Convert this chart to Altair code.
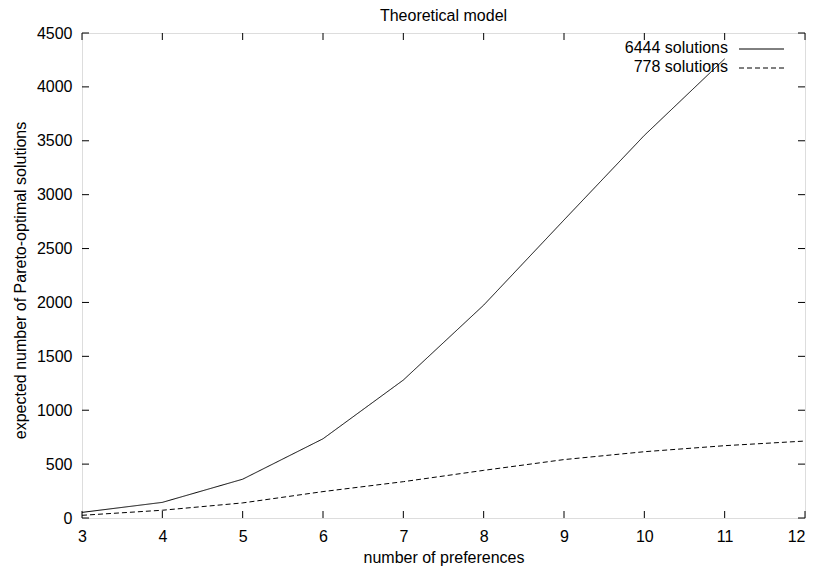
import altair as alt
import pandas as pd

# ---- data ----
prefs = [3, 4, 5, 6, 7, 8, 9, 10, 11, 12]
sol_6444 = [52, 145, 360, 735, 1280, 1975, 2765, 3550, 4260]
sol_778 = [25, 72, 140, 245, 337, 442, 542, 615, 671, 714]
series_names = ["6444 solutions", "778 solutions"]
x_ticks = [3, 4, 5, 6, 7, 8, 9, 10, 11, 12]
y_ticks = [0, 500, 1000, 1500, 2000, 2500, 3000, 3500, 4000, 4500]

W, H = 723, 485
FONT = "Liberation Sans"
FS = 16
DASHES = [[1, 0], [5, 3]]

rows = []
for p, v in zip(prefs, sol_6444):
    rows.append({"prefs": p, "value": v, "series": series_names[0]})
for p, v in zip(prefs, sol_778):
    rows.append({"prefs": p, "value": v, "series": series_names[1]})
df = pd.DataFrame(rows)

xscale = alt.Scale(domain=[3, 12], nice=False, zero=False)
yscale = alt.Scale(domain=[0, 4500], nice=False)
dash_scale = alt.Scale(domain=series_names, range=DASHES)

lines = alt.Chart(df).mark_line(color="black", strokeWidth=1).encode(
    x=alt.X("prefs:Q", scale=xscale, title="number of preferences",
            axis=alt.Axis(values=x_ticks, format="d", ticks=False, tickSize=0, domain=False, grid=False,
                          labelPadding=10, labelFontSize=FS, labelFont=FONT, labelColor="black",
                          labelAlign=alt.condition(f"datum.value == {x_ticks[-1]}",
                                                   alt.value("right"), alt.value("center")),
                          titleFontSize=FS, titleFont=FONT, titleFontWeight="normal", titleColor="black",
                          titleY=44, titleBaseline="alphabetic", labelFlush=False)),
    y=alt.Y("value:Q", scale=yscale, title="expected number of Pareto-optimal solutions",
            axis=alt.Axis(values=y_ticks, format="d", ticks=False, tickSize=0, domain=False, grid=False,
                          labelPadding=10, labelFontSize=FS, labelFont=FONT, labelColor="black",
                          labelBaseline="middle", labelFlush=False,
                          titleFontSize=FS, titleFont=FONT, titleFontWeight="normal", titleColor="black",
                          titleX=-62, titleY=247, titleAngle=270, titleAlign="center",
                          titleBaseline="middle")),
    strokeDash=alt.StrokeDash("series:N", scale=dash_scale, legend=None),
    detail="series:N",
)

xt = pd.DataFrame({"prefs": x_ticks})
yt = pd.DataFrame({"value": y_ticks})

xtick_bottom = alt.Chart(xt).mark_rule(color="black", strokeWidth=1).encode(
    x=alt.X("prefs:Q", scale=xscale), y=alt.value(H), y2=alt.value(H - 7))
xtick_top = alt.Chart(xt).mark_rule(color="black", strokeWidth=1).encode(
    x=alt.X("prefs:Q", scale=xscale), y=alt.value(0), y2=alt.value(7))
ytick_left = alt.Chart(yt).mark_rule(color="black", strokeWidth=1).encode(
    y=alt.Y("value:Q", scale=yscale), x=alt.value(0), x2=alt.value(7))
ytick_right = alt.Chart(yt).mark_rule(color="black", strokeWidth=1).encode(
    y=alt.Y("value:Q", scale=yscale), x=alt.value(W), x2=alt.value(W - 7))

legend_layers = []
for i, name in enumerate(series_names):
    ldf = pd.DataFrame({"series": [name]})
    ty = 15 + 19 * i
    legend_layers.append(
        alt.Chart(ldf).mark_text(align="right", baseline="middle", font=FONT,
                                 fontSize=FS, color="black").encode(
            text="series:N", x=alt.value(646), y=alt.value(ty)))
    legend_layers.append(
        alt.Chart(ldf).mark_rule(color="black", strokeWidth=1, strokeDash=DASHES[i]).encode(
            x=alt.value(657), x2=alt.value(702), y=alt.value(ty + 1)))

chart = alt.layer(lines, xtick_bottom, xtick_top, ytick_left, ytick_right, *legend_layers).properties(
    width=W, height=H,
    title=alt.Title("Theoretical model", font=FONT, fontSize=FS, fontWeight="normal",
                    color="black", anchor="middle", frame="group", offset=1),
    autosize=alt.AutoSizeParams(type="none"),
    padding={"left": 74, "top": 25, "right": 1, "bottom": 56},
).configure_view(stroke="black", strokeWidth=1).configure(background="white")

chart.save("out.html", embed_options={"renderer": "svg", "actions": False})
